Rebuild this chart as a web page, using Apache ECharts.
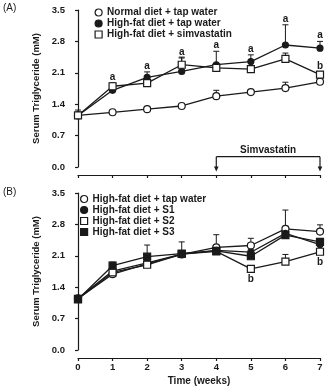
<!DOCTYPE html>
<html>
<head>
<meta charset="utf-8">
<script src="https://cdn.jsdelivr.net/npm/echarts@6/dist/echarts.min.js"></script>
<style>
  html, body { margin: 0; padding: 0; background: #fff; }
  #chart { width: 327px; height: 388px; }
</style>
</head>
<body>
<div id="chart"></div>
<script>
// weeks on the x axis
const weeks = [0, 1, 2, 3, 4, 5, 6, 7]
const yMax = 3.5
const yStep = 0.7

// panel A
const normalA = [1.15, 1.22, 1.29, 1.36, 1.58, 1.67, 1.76, 1.90]
const normalErrA = [0.04, 0.04, 0.03, 0.03, 0.13, 0.04, 0.13, 0.04]
const hfA = [1.15, 1.71, 2.0, 2.13, 2.28, 2.35, 2.72, 2.65]
const hfErrA = [0.12, 0.16, 0.12, 0.3, 0.3, 0.15, 0.45, 0.15]
const simA = [1.15, 1.80, 1.87, 2.28, 2.21, 2.18, 2.41, 2.06]
const simErrA = [0.05, 0.08, 0.08, 0.17, 0.1, 0.06, 0.13, 0.06]
const sigHfA = ['', 'a', 'a', 'a', 'a', 'a', 'a', 'a']
const sigSimA = ['', '', '', '', '', '', '', 'b']
// simvastatin treatment period (weeks) and bracket height
const treatWeeks = [4, 7]
const bracketLevel = 0.23
const arrowTip = -0.1

// panel B
const hfB = [1.15, 1.69, 1.92, 2.13, 2.29, 2.33, 2.70, 2.64]
const hfErrB = [0.05, 0.16, 0.12, 0.28, 0.28, 0.16, 0.42, 0.15]
const s1B = [1.15, 1.76, 1.94, 2.14, 2.22, 2.18, 2.60, 2.35]
const s1ErrB = [0.04, 0.05, 0.05, 0.04, 0.05, 0.05, 0.06, 0.05]
const s2B = [1.14, 1.73, 1.90, 2.14, 2.20, 1.81, 1.97, 2.19]
const s2ErrB = [0.04, 0.05, 0.05, 0.04, 0.05, 0.05, 0.16, 0.05]
const s3B = [1.13, 1.88, 2.08, 2.15, 2.21, 2.09, 2.56, 2.41]
const s3ErrB = [0.04, 0.08, 0.26, 0.05, 0.05, 0.05, 0.05, 0.05]
const sigS2B = ['', '', '', '', '', 'b', '', 'b']

const FONT = 'Liberation Sans'
const INK = '#1a1a1a'

const openStyle = { color: '#fff', borderColor: INK, borderWidth: 1.2 }
const fillStyle = { color: INK, borderColor: INK, borderWidth: 1.2 }

function pairs(values) {
  return weeks.map((w, i) => [w, values[i]])
}

function lineSeries(name, values, symbol, size, filled, grid) {
  return {
    name,
    type: 'line',
    xAxisIndex: grid,
    yAxisIndex: grid,
    data: pairs(values),
    symbol,
    symbolSize: size,
    lineStyle: { color: INK, width: 1.3 },
    itemStyle: filled ? fillStyle : openStyle,
    z: 3
  }
}

// upward error bars, with the significance letters
function errorSeries(values, errors, grid, sig, below) {
  return {
    type: 'custom',
    xAxisIndex: grid,
    yAxisIndex: grid,
    z: 2,
    silent: true,
    clip: false,
    data: weeks.map((w, i) => [w, values[i], values[i] + errors[i]]),
    renderItem(params, api) {
      const p = api.coord([api.value(0), api.value(1)])
      const t = api.coord([api.value(0), api.value(2)])
      const children = [
        { type: 'line', shape: { x1: p[0], y1: p[1], x2: t[0], y2: t[1] }, style: { stroke: INK, lineWidth: 1 } },
        { type: 'line', shape: { x1: t[0] - 3, y1: t[1], x2: t[0] + 3, y2: t[1] }, style: { stroke: INK, lineWidth: 1 } }
      ]
      const s = sig ? sig[params.dataIndex] : ''
      if (s) {
        children.push({
          type: 'text',
          x: p[0],
          y: below ? p[1] + 10 : t[1] - 6,
          style: { text: s, fill: INK, fontSize: 10, fontWeight: 'bold', fontFamily: FONT, align: 'center', verticalAlign: 'middle' }
        })
      }
      return { type: 'group', children }
    }
  }
}

function yAxis(grid) {
  return {
    type: 'value',
    gridIndex: grid,
    min: 0,
    max: yMax,
    interval: yStep,
    offset: 8,
    name: 'Serum Triglyceride (mM)',
    nameLocation: 'middle',
    nameGap: 25,
    nameTextStyle: { color: INK, fontSize: 9.5, fontWeight: 'bold', fontFamily: FONT },
    axisLine: { show: true, lineStyle: { color: INK, width: 1.2 } },
    axisTick: { show: true, length: 3, lineStyle: { color: INK, width: 1.2 } },
    axisLabel: { color: INK, fontSize: 9.5, fontWeight: 'bold', fontFamily: FONT, margin: 5, formatter: v => v.toFixed(1) },
    splitLine: { show: false }
  }
}

function xAxis(grid, labels) {
  return {
    type: 'value',
    gridIndex: grid,
    min: weeks[0],
    max: weeks[weeks.length - 1],
    interval: 1,
    offset: 8,
    name: labels ? 'Time (weeks)' : '',
    nameLocation: 'middle',
    nameGap: 18,
    nameTextStyle: { color: INK, fontSize: 10, fontWeight: 'bold', fontFamily: FONT },
    axisLine: { show: true, onZero: false, lineStyle: { color: INK, width: 1.2 } },
    axisTick: { show: true, length: 3, lineStyle: { color: INK, width: 1.2 } },
    axisLabel: { show: labels, color: INK, fontSize: 9.5, fontWeight: 'bold', fontFamily: FONT, margin: 4 },
    splitLine: { show: false }
  }
}

function legend(left, top, items) {
  return {
    orient: 'vertical',
    left,
    top,
    padding: 0,
    itemGap: 0,
    itemWidth: 7,
    itemHeight: 7,
    selectedMode: false,
    textStyle: { color: INK, fontSize: 10, fontWeight: 'bold', fontFamily: FONT, lineHeight: 11 },
    data: items
  }
}

const bracketSeries = {
  type: 'custom',
  xAxisIndex: 0,
  yAxisIndex: 0,
  silent: true,
  clip: false,
  data: [[treatWeeks[0], treatWeeks[1], bracketLevel, arrowTip]],
  renderItem(params, api) {
    const a = api.coord([api.value(0), api.value(2)])
    const b = api.coord([api.value(1), api.value(2)])
    const tipY = api.coord([api.value(0), api.value(3)])[1]
    const st = { stroke: INK, lineWidth: 1.2 }
    const arrow = x => ({ type: 'polygon', shape: { points: [[x - 2.3, tipY - 5], [x + 2.3, tipY - 5], [x, tipY]] }, style: { fill: INK } })
    return {
      type: 'group',
      children: [
        { type: 'line', shape: { x1: a[0], y1: a[1], x2: b[0], y2: b[1] }, style: st },
        { type: 'line', shape: { x1: a[0], y1: a[1], x2: a[0], y2: tipY - 4 }, style: st },
        { type: 'line', shape: { x1: b[0], y1: b[1], x2: b[0], y2: tipY - 4 }, style: st },
        arrow(a[0]),
        arrow(b[0]),
        {
          type: 'text',
          x: (a[0] + b[0]) / 2,
          y: a[1] - 6,
          style: { text: 'Simvastatin', fill: INK, fontSize: 10, fontWeight: 'bold', fontFamily: FONT, align: 'center', verticalAlign: 'middle' }
        }
      ]
    }
  }
}

const chart = echarts.init(document.getElementById('chart'))
chart.setOption({
  animation: false,
  backgroundColor: '#fff',
  title: [
    { text: '(A)', left: 3, top: 3, padding: 0, textStyle: { color: INK, fontSize: 10, fontWeight: 'normal', fontFamily: FONT } },
    { text: '(B)', left: 3, top: 187, padding: 0, textStyle: { color: INK, fontSize: 10, fontWeight: 'normal', fontFamily: FONT } }
  ],
  legend: [
    legend(94.5, 7, [
      { name: 'Normal diet + tap water', icon: 'circle', itemStyle: openStyle },
      { name: 'High-fat diet + tap water', icon: 'circle', itemStyle: fillStyle },
      { name: 'High-fat diet + simvastatin', icon: 'rect', itemStyle: openStyle }
    ]),
    legend(80, 193.5, [
      { name: 'High-fat diet + tap water', icon: 'circle', itemStyle: openStyle },
      { name: 'High-fat diet + S1', icon: 'circle', itemStyle: fillStyle },
      { name: 'High-fat diet + S2', icon: 'rect', itemStyle: openStyle },
      { name: 'High-fat diet + S3', icon: 'rect', itemStyle: fillStyle }
    ])
  ],
  grid: [
    { left: 78, right: 7, top: 10, height: 157 },
    { left: 78, right: 7, top: 193, height: 157 }
  ],
  xAxis: [xAxis(0, false), xAxis(1, true)],
  yAxis: [yAxis(0), yAxis(1)],
  series: [
    errorSeries(normalA, normalErrA, 0),
    errorSeries(simA, simErrA, 0, sigSimA, false),
    errorSeries(hfA, hfErrA, 0, sigHfA, false),
    lineSeries('Normal diet + tap water', normalA, 'circle', 7, false, 0),
    lineSeries('High-fat diet + tap water', hfA, 'circle', 6, true, 0),
    lineSeries('High-fat diet + simvastatin', simA, 'rect', 7, false, 0),
    bracketSeries,

    errorSeries(hfB, hfErrB, 1),
    errorSeries(s1B, s1ErrB, 1),
    errorSeries(s2B, s2ErrB, 1, sigS2B, true),
    errorSeries(s3B, s3ErrB, 1),
    lineSeries('High-fat diet + tap water', hfB, 'circle', 7, false, 1),
    lineSeries('High-fat diet + S1', s1B, 'circle', 6, true, 1),
    lineSeries('High-fat diet + S2', s2B, 'rect', 7, false, 1),
    lineSeries('High-fat diet + S3', s3B, 'rect', 7, true, 1)
  ]
})
</script>
</body>
</html>
